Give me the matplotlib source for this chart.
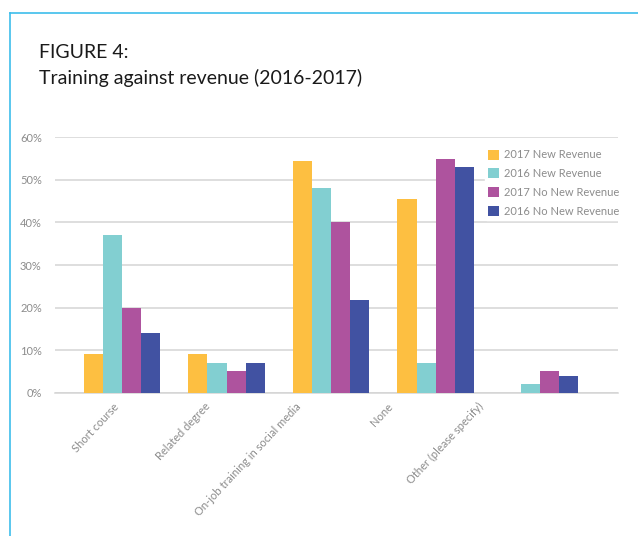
import matplotlib
matplotlib.use("Agg")
import matplotlib.pyplot as plt
from matplotlib.lines import Line2D
import numpy as np

plt.rcParams['font.family'] = ['Lato', 'DejaVu Sans']

categories = ["Short course", "Related degree", "On-job training in social media",
              "None", "Other (please specify)"]
series_names = ["2017 New Revenue", "2016 New Revenue",
                "2017 No New Revenue", "2016 No New Revenue"]
rev_2017_new = [9.1, 9.1, 54.5, 45.4, 0.0]
rev_2016_new = [37.0, 7.0, 48.0, 7.0, 2.0]
rev_2017_none = [20.0, 5.0, 40.0, 55.0, 5.0]
rev_2016_none = [14.0, 7.0, 21.7, 53.0, 4.0]
yticks = [0, 10, 20, 30, 40, 50, 60]
ytick_labels = ["0%", "10%", "20%", "30%", "40%", "50%", "60%"]

colors = ["#FDBF41", "#82CFD1", "#AE539E", "#4152A2"]
series = [rev_2017_new, rev_2016_new, rev_2017_none, rev_2016_none]

W, H = 638, 536
fig = plt.figure(figsize=(W / 100, H / 100), dpi=100)

# light blue frame (top and left edges)
frame_color = "#3DBDEB"
fig.add_artist(Line2D([10 / W, 1.0], [1 - 13 / H, 1 - 13 / H], color=frame_color, lw=1.2))
fig.add_artist(Line2D([10 / W, 10 / W], [0, 1 - 13 / H], color=frame_color, lw=1.2))

fig.text(39 / W, 1 - 52 / H, "FIGURE 4:", fontsize=14, color="#1A1A1A",
         va="center", ha="left")
fig.text(39 / W, 1 - 78 / H, "Training against revenue (2016-2017)", fontsize=14,
         color="#1A1A1A", va="center", ha="left")

ax = fig.add_axes([55 / W, 143.3 / H, 563 / W, 255.4 / H])
x = np.arange(len(categories))
bw = 0.182
for i, (vals, c, name) in enumerate(zip(series, colors, series_names)):
    ax.bar(x + (i - 1.5) * bw, vals, width=bw, color=c, label=name, zorder=3)

ax.set_xlim(-0.641, 4.746)
ax.set_ylim(0, 60)
ax.set_yticks(yticks)
ax.set_yticklabels(ytick_labels)
ax.grid(axis="y", color="#D4D4D4", lw=1.1, zorder=0)
for s in ["top", "right", "left"]:
    ax.spines[s].set_visible(False)
ax.spines["bottom"].set_color("#D4D4D4")
ax.spines["bottom"].set_linewidth(1.1)
ax.tick_params(axis="both", length=0, colors="#8C8C8C", labelsize=8)
ax.tick_params(axis="y", pad=9.5)
# category labels sit on a slightly tighter spacing than the bar groups
label_pos = -0.086 + 0.873 * x
ax.set_xticks(label_pos)
ax.set_xticklabels(categories, rotation=47, ha="right", rotation_mode="anchor")
ax.tick_params(axis="x", pad=6)

leg = ax.legend(loc="upper left", bbox_to_anchor=(485 / W, 1 - 146 / H),
                bbox_transform=fig.transFigure, frameon=True, fontsize=8,
                handlelength=1.0, handleheight=1.0, handletextpad=0.4,
                labelspacing=0.7, borderpad=0.3, borderaxespad=0)
leg.get_frame().set_edgecolor("white")
leg.get_frame().set_facecolor("white")
leg.get_frame().set_alpha(1)
for t in leg.get_texts():
    t.set_color("#8C8C8C")

fig.savefig("out.png", dpi=100)
